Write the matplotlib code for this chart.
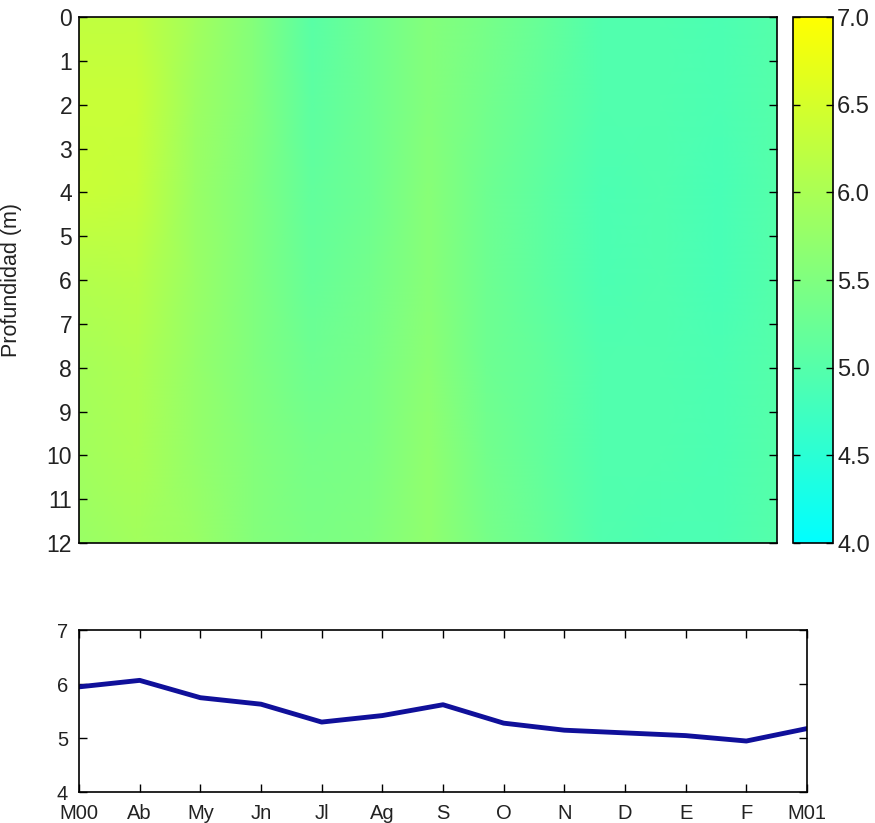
import numpy as np
import matplotlib.pyplot as plt
from matplotlib.colors import LinearSegmentedColormap

# months (Mar 2000 -> Mar 2001) and depths
meses = ['M00', 'Ab', 'My', 'Jn', 'Jl', 'Ag', 'S', 'O', 'N', 'D', 'E', 'F', 'M01']
prof = [0, 2, 4, 6, 8, 10, 12]

# field values (rows = depth, cols = month)
d0  = [6.25, 6.25, 5.90, 5.55, 5.05, 5.30, 5.55, 5.40, 5.20, 4.95, 4.95, 4.90, 5.00]
d2  = [6.35, 6.35, 5.85, 5.55, 5.10, 5.30, 5.55, 5.35, 5.15, 4.95, 4.95, 4.90, 5.00]
d4  = [6.35, 6.30, 5.80, 5.50, 5.15, 5.30, 5.60, 5.30, 5.10, 4.90, 4.95, 4.85, 5.00]
d6  = [6.10, 6.15, 5.80, 5.50, 5.20, 5.35, 5.60, 5.30, 5.10, 4.90, 4.95, 4.85, 5.00]
d8  = [5.95, 6.05, 5.75, 5.50, 5.30, 5.40, 5.65, 5.30, 5.15, 4.95, 4.95, 4.90, 5.00]
d10 = [5.90, 6.00, 5.75, 5.55, 5.40, 5.45, 5.70, 5.35, 5.15, 4.95, 4.95, 4.90, 5.00]
d12 = [5.80, 5.90, 5.80, 5.55, 5.45, 5.50, 5.70, 5.40, 5.20, 4.95, 4.90, 4.90, 5.00]

# depth averaged series
media = [5.95, 6.07, 5.75, 5.63, 5.30, 5.42, 5.62, 5.28, 5.15, 5.10, 5.05, 4.95, 5.18]

Z = np.array([d0, d2, d4, d6, d8, d10, d12])
t = np.arange(len(meses))

cmap = LinearSegmentedColormap.from_list('cy', [(0, 1, 1), (1, 1, 0)])
plt.rcParams['font.family'] = ['Liberation Sans', 'DejaVu Sans']
plt.rcParams['xtick.direction'] = 'in'
plt.rcParams['ytick.direction'] = 'in'

fig = plt.figure(figsize=(8.75, 8.23), dpi=100)

# top: depth-time section
ax = fig.add_axes([0.0903, 0.3402, 0.7977, 0.6391])
T, P = np.meshgrid(t, prof)
pc = ax.pcolormesh(T, P, Z, cmap=cmap, vmin=4, vmax=7, shading='gouraud')
ax.set_xlim(0, 12)
ax.set_ylim(12, 0)
ax.set_yticks(range(0, 13))
ax.set_xticks([])
ax.tick_params(axis='y', left=True, right=True, labelsize=16.5, length=6, width=1, pad=5,
               labelcolor='#222222')
ax.set_ylabel('Profundidad (m)', fontsize=15.5, color='#222222')
ax.yaxis.set_label_coords(-0.081, 0.5)
for s in ax.spines.values():
    s.set_linewidth(1.2)

# colorbar
cax = fig.add_axes([0.9063, 0.3402, 0.0457, 0.6391])
cb = fig.colorbar(pc, cax=cax)
cb.set_ticks([4.0, 4.5, 5.0, 5.5, 6.0, 6.5, 7.0])
cb.set_ticklabels(['4.0', '4.5', '5.0', '5.5', '6.0', '6.5', '7.0'])
cax.tick_params(left=True, right=True, labelsize=17, length=5, width=1, direction='in', pad=3,
                labelcolor='#222222')
cb.outline.set_linewidth(1.2)

# bottom: depth mean
ax2 = fig.add_axes([0.0903, 0.0371, 0.832, 0.1974])
ax2.plot(t, media, color='#10109a', lw=3.5)
ax2.set_xlim(0, 12)
ax2.set_ylim(4, 7)
ax2.set_xticks(t)
ax2.set_xticklabels(meses)
ax2.set_yticks([4, 5, 6, 7])
ax2.tick_params(axis='both', top=True, right=True, labelsize=14.5, length=6, width=1,
                labelcolor='#222222')
ax2.tick_params(axis='y', pad=8)
ax2.tick_params(axis='x', pad=8)
for s in ax2.spines.values():
    s.set_linewidth(1.2)

fig.savefig('out.png', dpi=100)
